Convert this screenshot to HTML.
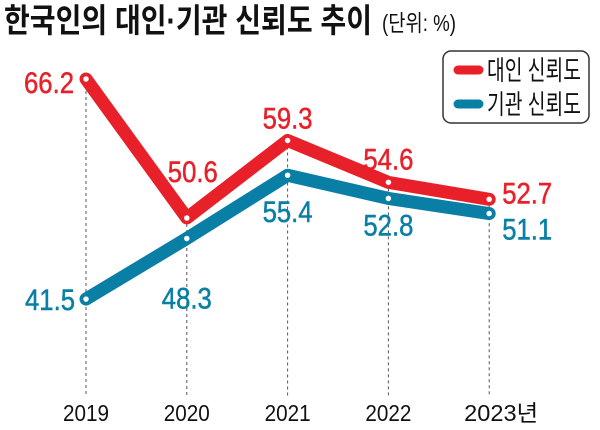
<!DOCTYPE html>
<html><head><meta charset="utf-8"><style>
html,body{margin:0;padding:0;background:#fff;}
svg{display:block;font-family:"Liberation Sans","Noto Sans CJK KR",sans-serif;}
</style></head><body>
<svg id="chart" width="600" height="430" viewBox="0 0 600 430">
<text x="4" y="32" font-size="33" font-weight="bold" fill="#111" textLength="368" lengthAdjust="spacingAndGlyphs">한국인의 대인·기관 신뢰도 추이</text>
<text x="382" y="31" font-size="23" fill="#111" textLength="74" lengthAdjust="spacingAndGlyphs">(단위: %)</text>
<g>
<rect x="443" y="51" width="146" height="72" rx="8" fill="#fff" stroke="#333" stroke-width="1.5"/>
<line x1="458" y1="70" x2="479" y2="70" stroke="#e8202a" stroke-width="9" stroke-linecap="round"/>
<text x="487" y="80" font-size="27" fill="#111" textLength="94" lengthAdjust="spacingAndGlyphs">대인 신뢰도</text>
<line x1="458" y1="104" x2="479" y2="104" stroke="#0a7fa6" stroke-width="9" stroke-linecap="round"/>
<text x="487" y="114" font-size="27" fill="#111" textLength="94" lengthAdjust="spacingAndGlyphs">기관 신뢰도</text>
</g>
<g id="plot"></g>
</svg>
<script>
const years = ["2019","2020","2021","2022","2023"];
const interpersonal = [66.2, 50.6, 59.3, 54.6, 52.7];
const institutional = [41.5, 48.3, 55.4, 52.8, 51.1];
const xLabels = ["2019","2020","2021","2022","2023년"];

const NS = "http://www.w3.org/2000/svg";
const plot = document.getElementById("plot");
function x(i){ return 86 + i * 100.8; }
function y(v){ return 79 + (66.2 - v) * 8.91; }
function mk(tag, attrs){ const e = document.createElementNS(NS, tag); for (const k in attrs) e.setAttribute(k, attrs[k]); plot.appendChild(e); return e; }

years.forEach((yr, i) => {
  const top = Math.min(y(interpersonal[i]), y(institutional[i]));
  const d = mk("line", {x1: x(i), x2: x(i), y1: top, y2: 396, stroke: "#555", "stroke-width": 1, "stroke-dasharray": "3,3"});
  
  
  const t = mk("text", {x: x(i), y: 421, "font-size": 23, "text-anchor": "middle", fill: "#111", textLength: i === 4 ? 74 : 46, lengthAdjust: "spacingAndGlyphs"});
  t.textContent = xLabels[i];
  
  
  if (i === 4) { t.setAttribute("x", x(i) + 12); }
});

function series(vals, color, name, labelOffsets) {
  const pts = vals.map((v, i) => x(i) + "," + y(v)).join(" ");
  const pl = mk("polyline", {points: pts, fill: "none", stroke: color, "stroke-width": 13, "stroke-linejoin": "round", "stroke-linecap": "round"});
  
  
  vals.forEach((v, i) => {
    const c = mk("circle", {cx: x(i), cy: y(v), r: 3.5, fill: "#fff", stroke: color, "stroke-width": 1.5});
    
    
    const o = labelOffsets[i];
    const t = mk("text", {x: x(i) + o[0], y: y(v) + o[1], "font-size": 30, fill: color, "text-anchor": "middle", "textLength": 50, "lengthAdjust": "spacingAndGlyphs", stroke: color, "stroke-width": 0.5});
    t.textContent = v.toFixed(1);
    
    
  });
}
series(interpersonal, "#e8202a", "interpersonal", [[-37,14],[6,-36],[0,-12],[0,-13],[38,4]]);
series(institutional, "#0a7fa6", "institutional", [[-36,11],[0,70],[0,47],[0,37],[38,26]]);
</script>
</body></html>
